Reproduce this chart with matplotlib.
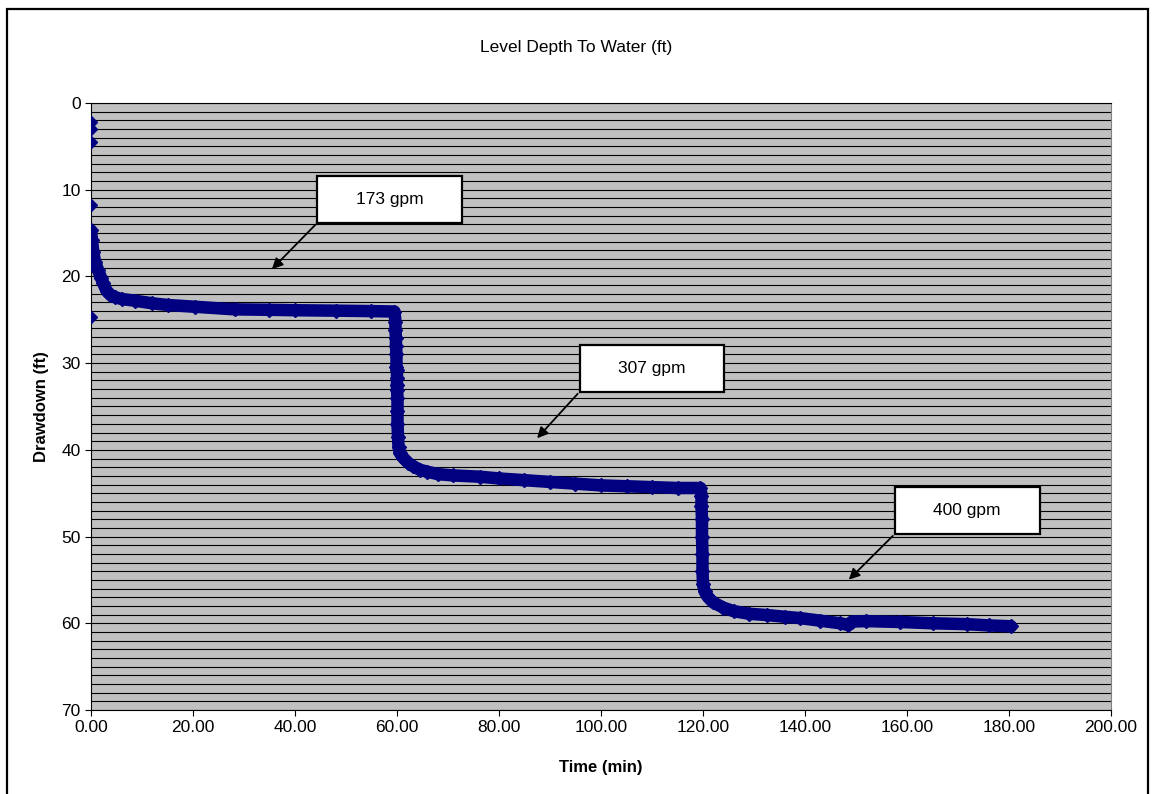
import matplotlib.pyplot as plt
from matplotlib.patches import Rectangle
from matplotlib.ticker import MultipleLocator, FormatStrFormatter

plt.rcParams["font.family"] = ["Liberation Sans", "DejaVu Sans"]

# early readings at t = 0 (scattered, not on the curve)
t_start = [0.0, 0.0, 0.0, 0.0, 0.0]
dd_start = [2.15, 3.0, 4.45, 11.8, 24.65]

# step test curve: time (min) and drawdown (ft)
t_min = [0.0, 0.2, 0.45, 0.8, 1.4, 2.0, 2.4, 3.1, 3.8, 4.7, 6.0, 8.6, 12.0,
         15.1, 20.4, 28.2, 35.0, 40.0, 48.0, 55.0, 59.5,
         59.7, 59.7, 59.8, 59.8, 59.9, 59.9, 60.0, 60.0, 60.0, 60.0, 60.1,
         60.1, 60.1, 60.2, 60.3, 60.6, 61.2, 62.2, 63.2, 64.5, 65.8, 68.0,
         71.0, 76.3, 80.0, 85.0, 90.0, 95.0, 100.0, 105.0, 110.0, 115.0, 119.5,
         119.7, 119.7, 119.8, 119.8, 119.9, 119.9, 120.0, 120.3, 121.0, 122.0,
         124.0, 126.0, 129.0, 132.5, 136.0, 139.0, 143.0, 146.9, 148.5, 149.2,
         152.0, 158.6, 165.0, 171.7, 176.0, 180.4]
drawdown = [14.7, 15.8, 17.2, 18.3, 19.3, 20.2, 20.8, 21.7, 22.1, 22.4, 22.6,
            22.8, 23.1, 23.3, 23.5, 23.8, 23.85, 23.9, 23.95, 24.0, 24.05,
            25.2, 26.2, 27.1, 28.0, 29.0, 30.4, 30.8, 31.7, 32.5, 33.1, 34.0,
            35.5, 37.0, 38.5, 39.7, 40.4, 40.9, 41.5, 41.9, 42.3, 42.5, 42.8,
            42.95, 43.1, 43.3, 43.5, 43.7, 43.9, 44.1, 44.2, 44.3, 44.4, 44.4,
            45.3, 46.5, 48.0, 50.0, 52.0, 54.0, 55.5, 56.3, 57.0, 57.6,
            58.2, 58.6, 58.9, 59.05, 59.25, 59.4, 59.7, 60.0, 60.2, 59.8,
            59.75, 59.85, 60.0, 60.1, 60.25, 60.35]

# pumping rate labels: text, box centre (min, ft), arrow tip (min, ft)
rate_labels = ["173 gpm", "307 gpm", "400 gpm"]
box_centres = [(58.6, 11.1), (110.0, 30.6), (171.8, 47.0)]
arrow_tips = [(35.1, 19.4), (87.1, 38.9), (148.2, 55.2)]

NAVY = "#000080"

fig = plt.figure(figsize=(11.53, 7.94), dpi=100)
ax = fig.add_axes([0.0789, 0.1058, 0.8847, 0.7645])
ax.set_facecolor("#C0C0C0")

ax.plot(t_min, drawdown, "-", color=NAVY, lw=9, solid_capstyle="round",
        solid_joinstyle="round", zorder=3)
ax.plot(t_min, drawdown, "D", color=NAVY, markersize=7, zorder=3)
ax.plot(t_start, dd_start, "D", color=NAVY, markersize=6.5, zorder=3)

ax.set_xlim(0, 200)
ax.set_ylim(70, 0)
ax.xaxis.set_major_locator(MultipleLocator(20))
ax.xaxis.set_major_formatter(FormatStrFormatter("%.2f"))
ax.yaxis.set_major_locator(MultipleLocator(10))
ax.yaxis.set_minor_locator(MultipleLocator(1))
ax.grid(axis="y", which="both", color="black", lw=0.8, zorder=1)
ax.set_axisbelow(True)
ax.tick_params(axis="both", which="major", direction="out", length=4,
               width=0.8, labelsize=12.5, color="black")
ax.tick_params(axis="y", which="minor", length=0)

ax.spines["right"].set_color("#808080")
for side in ["left", "bottom", "top"]:
    ax.spines[side].set_color("black")

ax.set_xlabel("Time (min)", fontsize=12, fontweight="bold", labelpad=18)
ax.set_ylabel("Drawdown (ft)", fontsize=12, fontweight="bold", labelpad=9)
fig.text(0.5, 0.94, "Level Depth To Water (ft)", ha="center", va="center",
         fontsize=12.5)

# labelled boxes with arrows
box_w, box_h = 28.4, 5.4
for label, (cx, cy), (ax_, ay) in zip(rate_labels, box_centres, arrow_tips):
    x0, y0 = cx - box_w / 2, cy + box_h / 2
    ax.annotate("", xy=(ax_, ay), xytext=(x0, y0),
                arrowprops=dict(arrowstyle="-|>", color="black", lw=1.3,
                                mutation_scale=16), zorder=4)
    ax.add_patch(Rectangle((x0, cy - box_h / 2), box_w, box_h,
                           facecolor="white", edgecolor="black", lw=1.6,
                           zorder=5))
    ax.text(cx, cy, label, ha="center", va="center", fontsize=12.5, zorder=6)

# chart area border
fig.add_artist(Rectangle((0.006, -0.01), 0.99, 0.999, transform=fig.transFigure,
                         fill=False, edgecolor="black", lw=1.6))

fig.savefig("out.png", dpi=100)
